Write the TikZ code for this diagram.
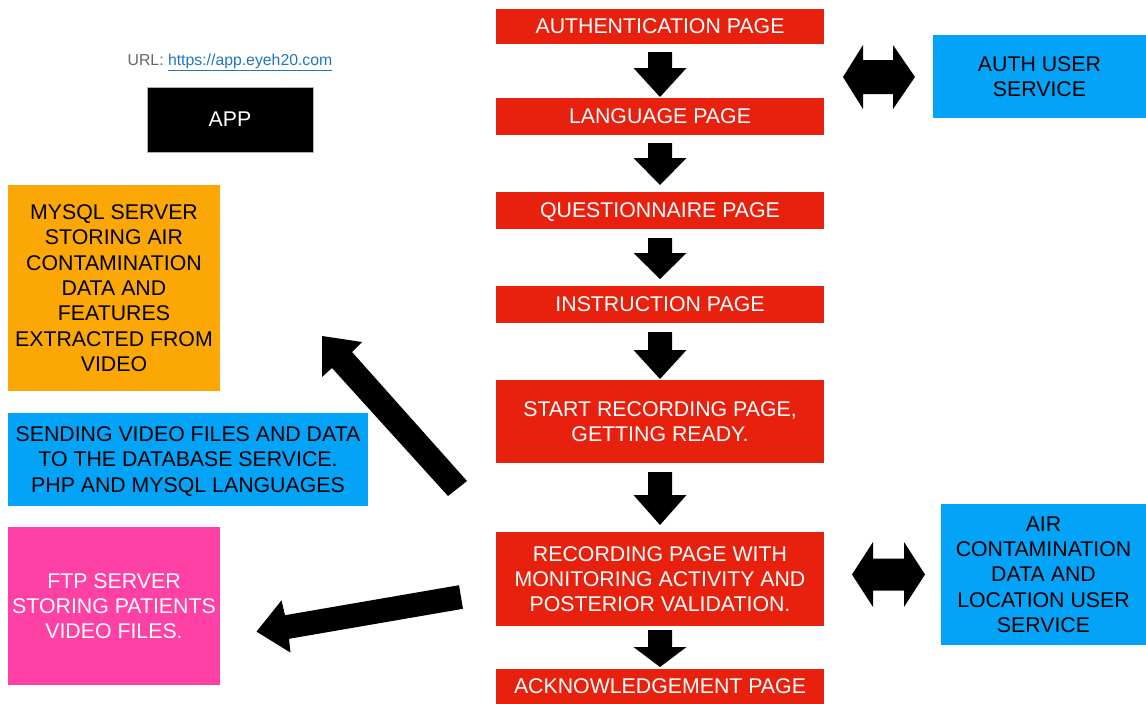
\documentclass[tikz,border=0pt]{standalone}
\usepackage{fontspec}
\setmainfont{Liberation Sans}
\definecolor{cRed}{HTML}{E8210F}
\definecolor{cBlue}{HTML}{03A3F7}
\definecolor{cOrange}{HTML}{FBA705}
\definecolor{cPink}{HTML}{FF40A5}
\definecolor{cLink}{HTML}{1F77C0}
\definecolor{cGray}{HTML}{666666}
\newcommand\blockdown[4]{% x, top, head base, tip
  \fill[black] (#1-12,#2) -- (#1+12,#2) -- (#1+12,#3) -- (#1+26.5,#3) -- (#1,#4) -- (#1-26.5,#3) -- (#1-12,#3) -- cycle;}
\newcommand\blockboth[7]{% left tip x, left base x, right base x, right tip x, y centre, head half, shaft half
  \fill[black] (#1,#5) -- (#2,#5-#6) -- (#2,#5-#7) -- (#3,#5-#7) -- (#3,#5-#6) -- (#4,#5)
    -- (#3,#5+#6) -- (#3,#5+#7) -- (#2,#5+#7) -- (#2,#5+#6) -- cycle;}
\begin{document}
\begin{tikzpicture}[x=1pt,y=-1pt,
  box/.style={rectangle, draw=none, inner sep=0pt, align=center, text depth=-2.5pt,
    font=\fontsize{21.3}{25.3}\selectfont},
  pagebox/.style={box, fill=cRed, text=white, minimum width=328pt, text depth=-3pt},
  servicebox/.style={box, fill=cBlue, text=black},
  dbbox/.style={box, fill=cOrange, text=black, text depth=-1pt},
  ftpbox/.style={box, fill=cPink, text=white},
  appbox/.style={box, fill=black, text=white, draw=gray!60, line width=0.6pt},
  urltext/.style={inner sep=0pt, font=\fontsize{15.8}{18}\selectfont}]
\useasboundingbox (0,0) rectangle (1146,704);
\fill[white] (0,0) rectangle (1146,704);

% page flow
\node[pagebox, minimum height=35pt] (auth) at (660,26.5) {AUTHENTICATION PAGE};
\node[pagebox, minimum height=37pt] (lang) at (660,116.5) {LANGUAGE PAGE};
\node[pagebox, minimum height=37pt] (quest) at (660,210.5) {QUESTIONNAIRE PAGE};
\node[pagebox, minimum height=37pt] (instr) at (660,304.5) {INSTRUCTION PAGE};
\node[pagebox, minimum height=83pt] (start) at (660,421.5) {START RECORDING PAGE,\\GETTING READY.};
\node[pagebox, minimum height=94pt] (rec) at (660,579) {RECORDING PAGE WITH\\MONITORING ACTIVITY AND\\POSTERIOR VALIDATION.};
\node[pagebox, minimum height=35pt] (ack) at (660,686.5) {ACKNOWLEDGEMENT PAGE};

% services
\node[servicebox, minimum width=213pt, minimum height=83pt] (authsvc) at (1039.5,76.5) {AUTH USER\\SERVICE};
\node[servicebox, minimum width=205pt, minimum height=141pt] (airsvc) at (1043.5,574.5) {AIR\\CONTAMINATION\\DATA AND\\LOCATION USER\\SERVICE};
\node[servicebox, minimum width=360pt, minimum height=93pt] (send) at (188,459.5) {SENDING VIDEO FILES AND DATA\\TO THE DATABASE SERVICE.\\PHP AND MYSQL LANGUAGES};
\node[dbbox, minimum width=212pt, minimum height=206pt] (mysql) at (114,288) {MYSQL SERVER\\STORING AIR\\CONTAMINATION\\DATA AND\\FEATURES\\EXTRACTED FROM\\VIDEO};
\node[ftpbox, minimum width=212pt, minimum height=158pt] (ftp) at (114,606) {FTP SERVER\\STORING PATIENTS\\VIDEO FILES.};

% app
\node[appbox, minimum width=166pt, minimum height=65pt] (app) at (230,119.5) {APP};
\node[urltext] (url) at (230,62.5) {\textcolor{cGray}{URL:} \textcolor{cLink}{\underline{https://app.eyeh20.com}}};

% down block arrows
\blockdown{660}{52}{68}{97}
\blockdown{660}{143}{158}{185}
\blockdown{660}{238}{253}{279}
\blockdown{660}{332}{350}{379}
\blockdown{660}{472}{495}{525}
\blockdown{660}{630}{647}{667}

% double arrows
\blockboth{843}{863}{893}{915}{77}{32}{17}
\blockboth{852}{873}{904}{925}{574.5}{32.5}{16}

% diagonal arrow to MySQL
\fill[black] (322,336) -- (362,342) -- (352,352) -- (467,481) -- (448,496) -- (332,368) -- (322,377) -- cycle;
% arrow to FTP
\fill[black] (256.5,631.6) -- (281.5,600.4) -- (285,615.2) -- (459,585.2) -- (463,608.8) -- (289,638.8) -- (290.5,652.6) -- cycle;
\end{tikzpicture}
\end{document}
